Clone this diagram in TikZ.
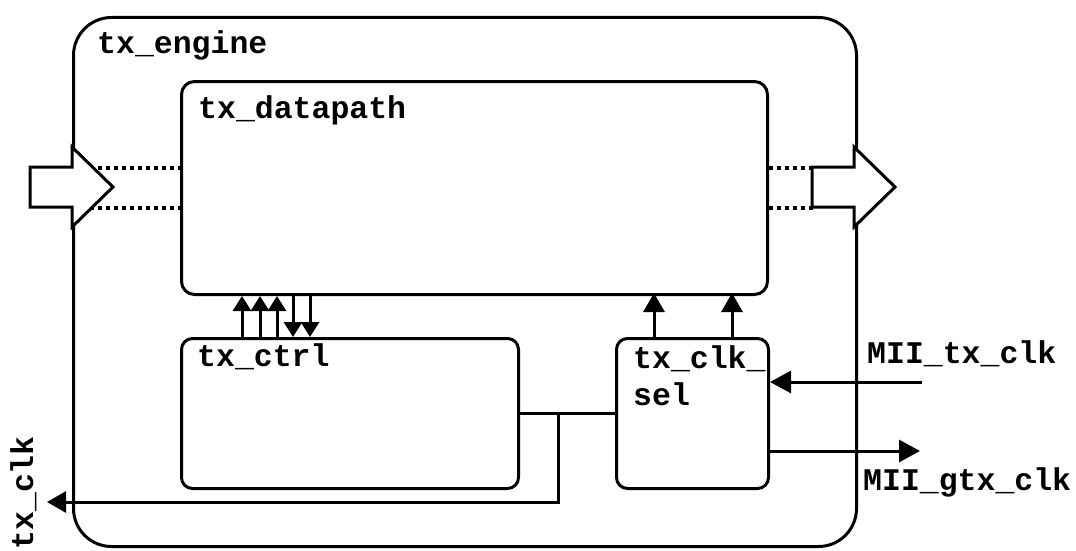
\documentclass[tikz,border=0pt]{standalone}
\usepackage{fontspec}
\setmonofont{Liberation Mono}
\usetikzlibrary{arrows.meta,calc}

\tikzset{
  block/.style={draw, line width=3pt, anchor=north west, inner sep=0pt},
  lbl/.style={font=\ttfamily\bfseries\fontsize{31.5}{37}\selectfont, inner sep=0pt, anchor=base west},
  wire/.style={line width=3pt},
  smallarr/.style={wire, -{Triangle[length=15pt,width=18pt]}},
  midarr/.style={wire, -{Triangle[length=19pt,width=21pt]}},
  bigarr/.style={wire, -{Triangle[length=21pt,width=22pt]}},
  dots/.style={line width=3.5pt, dash pattern=on 4pt off 4pt},
  busarrow/.style={draw, fill=white, line width=3pt, line join=miter}
}

\begin{document}
\begin{tikzpicture}[x=1pt,y=-1pt]
\useasboundingbox (0,0) rectangle (1076,551);

% blocks
\node[block, rounded corners=38pt, minimum width=783pt, minimum height=529pt] (eng) at (72,16) {};
\node[block, rounded corners=13pt, minimum width=586pt, minimum height=213pt] (dp) at (180,80) {};
\node[block, rounded corners=11pt, minimum width=337pt, minimum height=150pt] (ctrl) at (180,337) {};
\node[block, rounded corners=11pt, minimum width=152pt, minimum height=150pt] (sel) at (615,337) {};

% data bus lines (dotted) into and out of the datapath
\draw[dots] ($(dp.west)+(-90,-20)$) -- ($(dp.west)+(0,-20)$);
\draw[dots] ($(dp.west)+(-90,20)$) -- ($(dp.west)+(0,20)$);
\draw[dots] ($(dp.east)+(0,-20)$) -- ($(dp.east)+(46,-20)$);
\draw[dots] ($(dp.east)+(0,20)$) -- ($(dp.east)+(46,20)$);

% bus arrows
\path[busarrow] (30,167) -- (72,167) -- (72,147) -- (113,187) -- (72,227) -- (72,207) -- (30,207) -- cycle;
\path[busarrow] (812,167) -- (854,167) -- (854,147) -- (895,187) -- (854,227) -- (854,207) -- (812,207) -- cycle;

% control <-> datapath
\foreach \dx in {62,80,97}
  \draw[smallarr] ($(ctrl.north west)+(\dx,0)$) -- ($(dp.south west)+(\dx,0)$);
\foreach \dx in {113,130}
  \draw[smallarr] ($(dp.south west)+(\dx,0)$) -- ($(ctrl.north west)+(\dx,0)$);

% clock select -> datapath
\foreach \dx in {39,117}
  \draw[midarr] ($(sel.north west)+(\dx,0)$) -- ($(sel.north west)+(\dx,-44)$);

% external clocks
\coordinate (txin) at (922,382);
\coordinate (gtxout) at (920,451);
\draw[bigarr] (txin) -- (txin -| sel.east);
\draw[bigarr] (gtxout -| sel.east) -- (gtxout);

% control <-> clock select, and tx_clk out
\coordinate (tap) at (558,412);
\coordinate (clkout) at (47,502);
\draw[wire] (ctrl.east) -- (sel.west);
\draw[midarr] (tap) |- (clkout);

% labels
\node[lbl] (lengine) at (97,53) {tx\_engine};
\node[lbl] (ldp) at (198,118) {tx\_datapath};
\node[lbl] (lctrl) at (197,366) {tx\_ctrl};
\node[lbl, align=left] (lsel) at (633,405) {tx\_clk\_\\sel};
\node[lbl] (ltx) at (867,363) {MII\_tx\_clk};
\node[lbl] (lgtx) at (863,490) {MII\_gtx\_clk};
\node[lbl, anchor=base east, rotate=90] (lclk) at (33,436) {tx\_clk};
\end{tikzpicture}
\end{document}
